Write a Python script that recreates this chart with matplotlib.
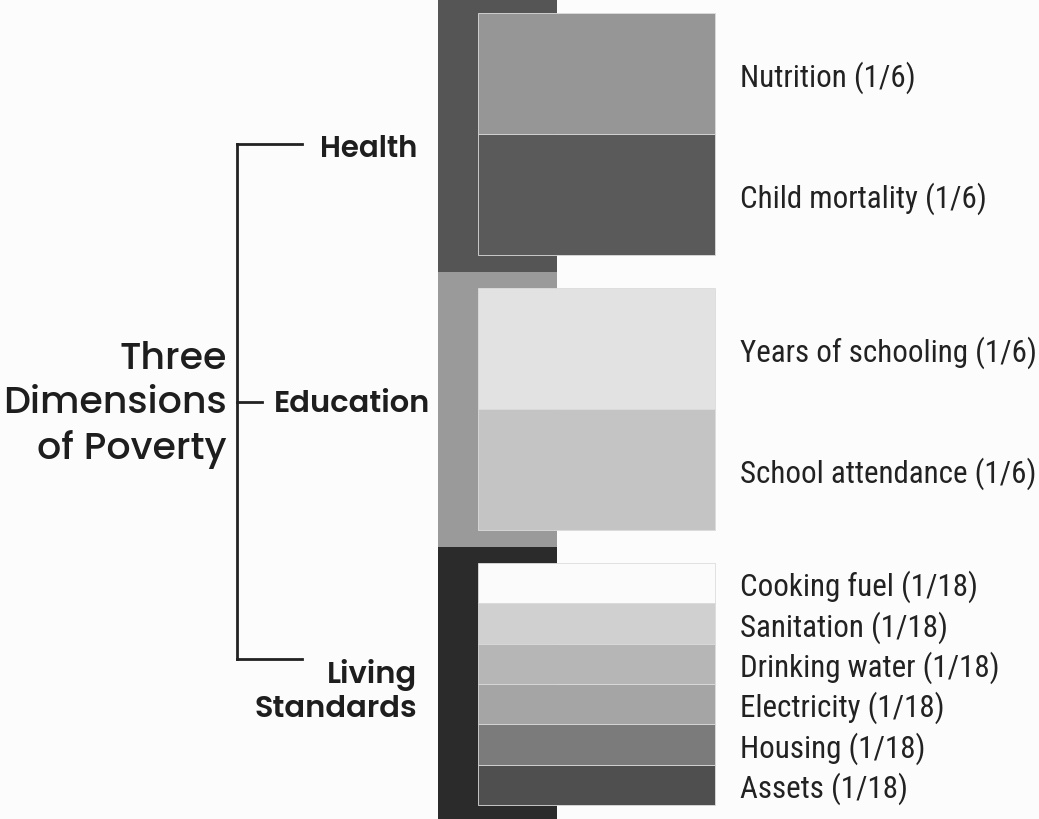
import matplotlib.pyplot as plt
from matplotlib.patches import Rectangle

# dimensions and indicators of the poverty index
dimensions = ["Health", "Education", "Living\nStandards"]
dim_colors = ["#555555", "#9a9a9a", "#2b2b2b"]

indicators = [
    "Nutrition", "Child mortality",
    "Years of schooling", "School attendance",
    "Cooking fuel", "Sanitation", "Drinking water",
    "Electricity", "Housing", "Assets",
]
weight_labels = ["1/6", "1/6", "1/6", "1/6",
                 "1/18", "1/18", "1/18", "1/18", "1/18", "1/18"]
weights = [1 / 6, 1 / 6, 1 / 6, 1 / 6,
           1 / 18, 1 / 18, 1 / 18, 1 / 18, 1 / 18, 1 / 18]
dim_of = [0, 0, 1, 1, 2, 2, 2, 2, 2, 2]
ind_colors = ["#969696", "#5a5a5a", "#e2e2e2", "#c4c4c4",
              "#fbfbfb", "#d0d0d0", "#b6b6b6", "#a5a5a5", "#7b7b7b", "#4f4f4f"]

W, H = 1039, 820
fig = plt.figure(figsize=(W / 100, H / 100), dpi=100)
fig.patch.set_facecolor("#fcfcfc")
ax = fig.add_axes([0, 0, 1, 1])
ax.set_xlim(0, W)
ax.set_ylim(H, 0)
ax.axis("off")

scale = 726      # pixels per unit of weight
gap = 33         # space between dimensions
top = 14
col_x0, col_x1 = 438, 557
box_x0, box_x1 = 478, 715

# stack indicator boxes
ys = []
y = top
for i, w in enumerate(weights):
    if i > 0 and dim_of[i] != dim_of[i - 1]:
        y += gap
    ys.append((y, y + w * scale))
    y += w * scale

# background columns for each dimension
bounds = []
for d in range(len(dimensions)):
    seg = [ys[i] for i in range(len(ys)) if dim_of[i] == d]
    bounds.append((seg[0][0], seg[-1][1]))
for d, (b0, b1) in enumerate(bounds):
    c0 = 0 if d == 0 else (bounds[d - 1][1] + b0) / 2
    c1 = H if d == len(bounds) - 1 else (b1 + bounds[d + 1][0]) / 2
    ax.add_patch(Rectangle((col_x0, c0), col_x1 - col_x0, c1 - c0,
                           facecolor=dim_colors[d], edgecolor="none", zorder=1))

label_font = ["Roboto Condensed", "Liberation Sans Narrow", "Lato", "DejaVu Sans"]
for i, (y0, y1) in enumerate(ys):
    ax.add_patch(Rectangle((box_x0, y0), box_x1 - box_x0, y1 - y0,
                           facecolor=ind_colors[i], edgecolor="#dcdcdc",
                           linewidth=0.6, zorder=2))
    ax.text(740, (y0 + y1) / 2 + 12, f"{indicators[i]} ({weight_labels[i]})",
            ha="left", va="baseline", fontsize=22.3, color="#222222",
            family=label_font)

# bracket on the left
head_font = ["Poppins", "Lato", "DejaVu Sans"]
bx = 237
ax.plot([bx, bx], [145, 660], color="#222222", lw=2)
ax.plot([bx, 302], [145, 145], color="#222222", lw=2)
ax.plot([bx, 262], [403, 403], color="#222222", lw=2)
ax.plot([bx, 302], [660, 660], color="#222222", lw=2)

ax.text(320, 157, dimensions[0], ha="left", va="baseline", fontsize=21,
        fontweight="semibold", color="#1e1e1e", family=head_font)
ax.text(274, 412, dimensions[1], ha="left", va="baseline", fontsize=22,
        fontweight="semibold", color="#1e1e1e", family=head_font)
ax.text(417, 692, dimensions[2], ha="right", va="center", fontsize=22,
        fontweight="semibold", color="#1e1e1e", family=head_font,
        multialignment="right", linespacing=1.15)

ax.text(227, 405, "Three\nDimensions\nof Poverty", ha="right", va="center",
        fontsize=27.3, fontweight="medium", color="#1e1e1e", family=head_font,
        multialignment="right", linespacing=1.22)

fig.savefig("out.png", dpi=100, facecolor=fig.get_facecolor())
